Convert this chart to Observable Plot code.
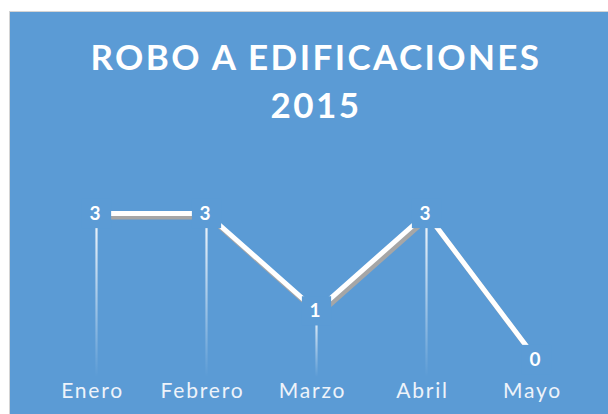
<!DOCTYPE html>
<html>
<head>
<meta charset="utf-8">
<script src="https://cdn.jsdelivr.net/npm/d3@7"></script>
<script src="https://cdn.jsdelivr.net/npm/@observablehq/plot@0.6"></script>
<style>
  html, body { margin: 0; padding: 0; background: #ffffff; width: 608px; height: 414px; overflow: hidden; }
  #panel { position: absolute; left: 9px; top: 11px; width: 600px; height: 404px; background: #5B9BD5; border: 1px solid #d4d4d4; }
  #title { position: absolute; left: 0; top: 20px; width: 612px; text-align: center; color: #ffffff;
           font-family: Lato, "Open Sans", sans-serif; font-weight: 700; font-size: 35px; line-height: 48px; letter-spacing: 2.4px; }
  #chart { position: absolute; left: 0; top: 0; }
</style>
</head>
<body>
<div id="panel">
  <div id="title">ROBO A EDIFICACIONES<br>2015</div>
  <div id="chart"></div>
</div>
<script>
const months = ["Enero", "Febrero", "Marzo", "Abril", "Mayo"];
const values = [3, 3, 1, 3, 0];
const data = months.map((m, i) => ({month: m, value: values[i]}));

const bg = "#5B9BD5";

const plot = Plot.plot({
  width: 598,
  height: 402,
  marginLeft: 85,
  marginRight: 71,
  marginTop: 201,
  marginBottom: 55,
  style: {background: "transparent", fontFamily: "Lato, 'Open Sans', sans-serif", fontSize: "21px", color: "#eef3fa", overflow: "visible"},
  x: {type: "point", domain: months, padding: 0, label: null},
  y: {domain: [0, 3], axis: null},
  marks: [
    Plot.ruleX(data.filter(d => d.value > 0), {x: "month", y1: 0, y2: "value", stroke: "white", strokeWidth: 2.2, insetTop: 18}),
    Plot.line(data, {x: "month", y: "value", stroke: "#a6a6a6", strokeWidth: 5, dx: 2.5, dy: 3.5, strokeLinejoin: "miter"}),
    Plot.line(data, {x: "month", y: "value", stroke: "#ffffff", strokeWidth: 5, strokeLinejoin: "miter"}),
    Plot.dot(data, {x: "month", y: "value", symbol: "square", r: 16.5, fill: bg, stroke: "none"}),
    Plot.text(data, {x: "month", y: "value", text: d => String(d.value), fill: "white", fontWeight: "bold", fontSize: 19, dx: -1.5}),
    Plot.axisX({tickSize: 0, tickPadding: 24, fontSize: 21, label: null, dx: -4, style: "letter-spacing: 1.8px"})
  ]
});

// per-rule vertical fade gradient
const svgNS = "http://www.w3.org/2000/svg";
const defs = document.createElementNS(svgNS, "defs");
plot.insertBefore(defs, plot.firstChild);
plot.querySelectorAll('g[aria-label="rule"] line').forEach((ln, i) => {
  const x = +ln.getAttribute("x1") || 0;
  const ya = +ln.getAttribute("y1"), yb = +ln.getAttribute("y2");
  const g = document.createElementNS(svgNS, "linearGradient");
  g.setAttribute("id", "fade" + i);
  g.setAttribute("gradientUnits", "userSpaceOnUse");
  g.setAttribute("x1", x); g.setAttribute("x2", x);
  g.setAttribute("y1", Math.min(ya, yb)); g.setAttribute("y2", Math.max(ya, yb));
  const s1 = document.createElementNS(svgNS, "stop");
  s1.setAttribute("offset", "0"); s1.setAttribute("stop-color", "#ffffff"); s1.setAttribute("stop-opacity", "0.95");
  const s2 = document.createElementNS(svgNS, "stop");
  s2.setAttribute("offset", "1"); s2.setAttribute("stop-color", "#ffffff"); s2.setAttribute("stop-opacity", "0");
  g.appendChild(s1); g.appendChild(s2);
  defs.appendChild(g);
  ln.setAttribute("stroke", `url(#fade${i})`);
});
plot.querySelectorAll('g[aria-label="rule"]').forEach(g => g.removeAttribute("stroke"));
plot.querySelectorAll('g[aria-label="x-axis tick label"] text').forEach(t => t.style.letterSpacing = "1.8px");

document.getElementById("chart").appendChild(plot);
</script>
</body>
</html>
